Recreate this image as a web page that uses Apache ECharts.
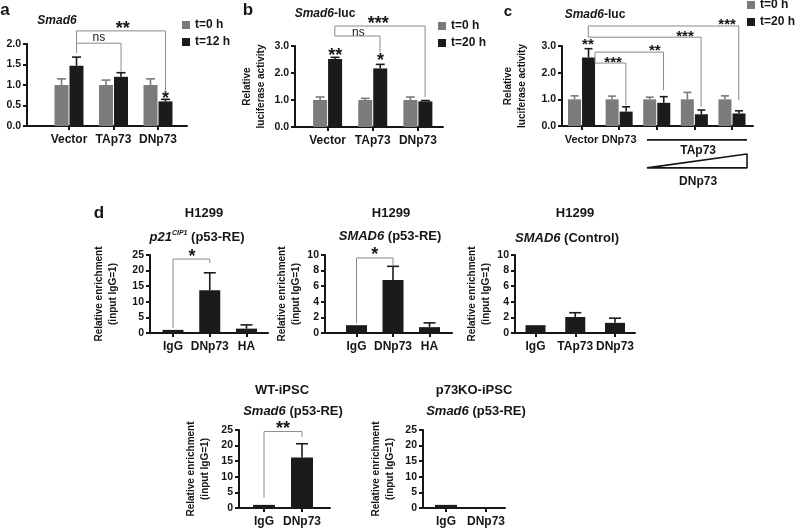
<!DOCTYPE html>
<html>
<head>
<meta charset="utf-8">
<script src="https://cdn.jsdelivr.net/npm/echarts@6/dist/echarts.min.js"></script>
<style>
html, body { margin: 0; padding: 0; background: #fff; }
#chart { width: 799px; height: 530px; }
</style>
</head>
<body>
<div id="chart"></div>
<script>
// ---- a: Smad6 mRNA (qPCR) ----
var aCats = ['Vector', 'TAp73', 'DNp73'];
var aYTicks = [0, 0.5, 1.0, 1.5, 2.0];
var aT0 = [1.0, 1.0, 1.0];
var aT0Sem = [0.15, 0.12, 0.15];
var aT12 = [1.47, 1.2, 0.6];
var aT12Sem = [0.21, 0.1, 0.05];
var aBrackets = [
	[[0.17, 1.78], [0.17, 2.02], [1.17, 2.02], [1.17, 1.33]],
	[[0.17, 2.02], [0.17, 2.32], [2.17, 2.32], [2.17, 0.82]],
];
var aNotes = [[0.67, 2.16, 'ns'], [1.21, 2.46, '**'], [2.17, 0.75, '*']];

// ---- b: Smad6-luc ----
var bCats = ['Vector', 'TAp73', 'DNp73'];
var bYTicks = [0, 1.0, 2.0, 3.0];
var bT0 = [1.0, 1.0, 1.0];
var bT0Sem = [0.11, 0.06, 0.11];
var bT20 = [2.52, 2.17, 0.95];
var bT20Sem = [0.06, 0.15, 0.03];
var bBrackets = [
	[[0.16, 3.37], [1.16, 3.37], [1.16, 2.78]],
	[[0.16, 3.37], [0.16, 3.74], [2.16, 3.74], [2.16, 1.11]],
];
var bNotes = [[0.68, 3.5, 'ns'], [1.12, 3.96, '***'], [0.17, 2.78, '**'], [1.17, 2.59, '*']];

// ---- c: Smad6-luc, TAp73 + increasing DNp73 ----
var cCats = ['Vector', 'DNp73', '', '', ''];
var cYTicks = [0, 1.0, 2.0, 3.0];
var cT0 = [1.0, 1.0, 1.0, 1.0, 1.0];
var cT0Sem = [0.13, 0.12, 0.08, 0.26, 0.13];
var cT20 = [2.57, 0.54, 0.87, 0.44, 0.47];
var cT20Sem = [0.33, 0.18, 0.23, 0.16, 0.1];
var cBrackets = [
	[[0.18, 3.33], [0.18, 3.75], [4.18, 3.75], [4.18, 0.97]],
	[[0.18, 3.33], [3.18, 3.33], [3.18, 0.71]],
	[[0.36, 2.77], [2.18, 2.77], [2.18, 1.34]],
	[[0.36, 2.77], [0.36, 2.36], [1.18, 2.36], [1.18, 0.79]],
];
var cNotes = [[3.87, 3.9, '***'], [2.75, 3.48, '***'], [1.95, 2.96, '**'], [0.84, 2.51, '***'], [0.17, 3.15, '**']];
var cKeyLine = [[1.74, -0.52], [4.4, -0.52]];
var cKeyWedge = [[1.74, -1.57], [4.4, -1.57], [4.4, -1.05], [1.74, -1.57]];
var cKeyText = [[3.1, -0.94, 'TAp73'], [3.1, -2.1, 'DNp73']];

// ---- d: ChIP, H1299 ----
var d1Cats = ['IgG', 'DNp73', 'HA'];
var d1YTicks = [0, 5, 10, 15, 20, 25];
var d1Vals = [1.0, 13.7, 1.4];
var d1Sem = [0, 5.6, 1.2];
var d1Brackets = [[[0, 1.6], [0, 23.7], [1, 23.7], [1, 22.4]]];
var d1Notes = [[0.52, 25.6, '*']];

var d2Cats = ['IgG', 'DNp73', 'HA'];
var d2YTicks = [0, 2, 4, 6, 8, 10];
var d2Vals = [1.0, 6.8, 0.75];
var d2Sem = [0, 1.75, 0.55];
var d2Brackets = [[[0, 1.27], [0, 9.62], [1, 9.62], [1, 8.6]]];
var d2Notes = [[0.5, 10.5, '*']];

var d3Cats = ['IgG', 'TAp73', 'DNp73'];
var d3YTicks = [0, 2, 4, 6, 8, 10];
var d3Vals = [1.0, 2.05, 1.3];
var d3Sem = [0, 0.55, 0.6];

// ---- d: ChIP, iPSC ----
var d4Cats = ['IgG', 'DNp73'];
var d4YTicks = [0, 5, 10, 15, 20, 25];
var d4Vals = [1.0, 16.2];
var d4Sem = [0, 4.4];
var d4Brackets = [[[0, 3.3], [0, 24.5], [1, 24.5], [1, 22.8]]];
var d4Notes = [[0.5, 26.6, '**']];

var d5Cats = ['IgG', 'DNp73'];
var d5YTicks = [0, 5, 10, 15, 20, 25];
var d5Vals = [1.0, 0];
var d5Sem = [0, 0];

var FONT = '"Liberation Sans", Arial, Helvetica, sans-serif';
var GRAY = '#7b7b7b';
var BLACK = '#1b1b1b';
var LINE = '#8a8a8a';
var INK = '#161616';

var grids = [];
var xAxes = [];
var yAxes = [];
var series = [];

function panel(p) {
	var i = grids.length;
	var idx = p.cats.map(function (c, k) { return k });
	var t = p.yTicks;
	grids.push({ left: p.box[0], top: p.box[1], width: p.box[2], height: p.box[3], outerBoundsMode: 'none', containLabel: false });
	xAxes.push({
		gridIndex: i, type: 'value', min: p.xr[0], max: p.xr[1],
		axisLine: { show: true, onZero: false, lineStyle: { color: INK, width: 2 } },
		axisTick: { show: true, length: 4, customValues: idx, lineStyle: { color: INK, width: 2 } },
		axisLabel: {
			customValues: idx, margin: 8, color: INK, fontFamily: FONT, fontWeight: 'bold', fontSize: p.catSize || 12,
			formatter: function (v) { return p.cats[Math.round(v)] || '' },
		},
		splitLine: { show: false },
	});
	yAxes.push({
		gridIndex: i, type: 'value', min: t[0], max: t[t.length - 1], interval: t[1] - t[0],
		name: p.yName, nameLocation: 'middle', nameRotate: 90, nameGap: p.nameGap,
		nameTextStyle: { color: INK, fontFamily: FONT, fontWeight: 'bold', fontSize: 10, lineHeight: 14 },
		axisLine: { show: true, onZero: false, lineStyle: { color: INK, width: 2 } },
		axisTick: { show: true, length: 4, lineStyle: { color: INK, width: 2 } },
		axisLabel: {
			margin: 6, color: INK, fontFamily: FONT, fontWeight: 'bold', fontSize: 10.5,
			formatter: function (v) { return v.toFixed(p.dec) },
		},
		splitLine: { show: false },
	});
	return i;
}

function bars(i, name, vals, color, width, gap) {
	series.push({
		type: 'bar', name: name, xAxisIndex: i, yAxisIndex: i,
		data: vals.map(function (v, k) { return [k, v] }),
		barWidth: width, barGap: gap, itemStyle: { color: color },
		silent: true, animation: false,
	});
}

function errs(i, vals, sems, color, off, cap) {
	series.push({
		type: 'custom', xAxisIndex: i, yAxisIndex: i, silent: true, animation: false,
		data: vals.map(function (v, k) { return [k, v, v + sems[k]] }),
		encode: { x: 0, y: [1, 2] },
		renderItem: function (params, api) {
			if (api.value(2) <= api.value(1)) return
			var base = api.coord([api.value(0), api.value(1)]);
			var top = api.coord([api.value(0), api.value(2)]);
			var x = base[0] + off;
			return {
				type: 'group', children: [
					{ type: 'line', shape: { x1: x, y1: base[1], x2: x, y2: top[1] }, style: { stroke: color, lineWidth: 1.6 } },
					{ type: 'line', shape: { x1: x - cap / 2, y1: top[1], x2: x + cap / 2, y2: top[1] }, style: { stroke: color, lineWidth: 1.6 } },
				],
			};
		},
	});
}

function bracket(i, list, color, width) {
	list.forEach(function (pts) {
		series.push({
			type: 'line', xAxisIndex: i, yAxisIndex: i, data: pts, symbol: 'none', clip: false,
			silent: true, animation: false, lineStyle: { color: color || LINE, width: width || 1 },
		});
	});
}

function notes(i, items, starSize, font) {
	series.push({
		type: 'custom', xAxisIndex: i, yAxisIndex: i, silent: true, animation: false, clip: false,
		data: items.map(function (n) { return [n[0], n[1]] }),
		encode: { x: 0, y: 1 },
		renderItem: function (params, api) {
			var txt = items[params.dataIndex][2];
			var p = api.coord([api.value(0), api.value(1)]);
			var star = txt.indexOf('*') >= 0;
			return {
				type: 'text', x: p[0], y: p[1] + (star ? starSize * 0.22 : 0),
				style: {
					text: txt, fill: INK, align: 'center', verticalAlign: 'middle',
					font: star ? 'bold ' + starSize + 'px ' + FONT : (font || '12px ' + FONT),
				},
			};
		},
	});
}

// panel a
var pa = panel({ cats: aCats, yTicks: aYTicks, dec: 1, box: [27, 44, 160, 82], xr: [-0.944, 2.652], yName: 'Relative mRNA levels', nameGap: 16 });
bars(pa, 't=0 h', aT0, GRAY, 14, '7%');
bars(pa, 't=12 h', aT12, BLACK, 14, '7%');
errs(pa, aT0, aT0Sem, GRAY, -7.5, 9);
errs(pa, aT12, aT12Sem, BLACK, 7.5, 9);
bracket(pa, aBrackets);
notes(pa, aNotes, 18);

// panel b
var pb = panel({ cats: bCats, yTicks: bYTicks, dec: 1, box: [295, 46, 148, 81], xr: [-0.722, 2.556], yName: 'Relative\nluciferase activity', nameGap: 27 });
bars(pb, 't=0 h', bT0, GRAY, 14, '7%');
bars(pb, 't=20 h', bT20, BLACK, 14, '7%');
errs(pb, bT0, bT0Sem, GRAY, -7.5, 9);
errs(pb, bT20, bT20Sem, BLACK, 7.5, 9);
bracket(pb, bBrackets);
notes(pb, bNotes, 18);

// panel c
var pc = panel({ cats: cCats, catSize: 11, yTicks: cYTicks, dec: 1, box: [562, 46, 191, 80], xr: [-0.519, 4.559], yName: 'Relative\nluciferase activity', nameGap: 33 });
bars(pc, 't=0 h', cT0, GRAY, 13, '8%');
bars(pc, 't=20 h', cT20, BLACK, 13, '8%');
errs(pc, cT0, cT0Sem, GRAY, -7, 8);
errs(pc, cT20, cT20Sem, BLACK, 7, 8);
bracket(pc, cBrackets);
bracket(pc, [cKeyLine, cKeyWedge], INK, 1.6);
notes(pc, cNotes, 15);
notes(pc, cKeyText, 15, 'bold 12px ' + FONT);

// panel d, H1299
var enrich = 'Relative enrichment\n(input IgG=1)';
var p1 = panel({ cats: d1Cats, yTicks: d1YTicks, dec: 0, box: [150, 255, 118, 78], xr: [-0.626, 2.585], yName: enrich, nameGap: 30 });
bars(p1, 'p21', d1Vals, BLACK, 21);
errs(p1, d1Vals, d1Sem, BLACK, 0, 12);
bracket(p1, d1Brackets);
notes(p1, d1Notes, 18);

var p2 = panel({ cats: d2Cats, yTicks: d2YTicks, dec: 0, box: [325, 255, 127, 78], xr: [-0.863, 2.616], yName: enrich, nameGap: 20 });
bars(p2, 'smad6', d2Vals, BLACK, 21);
errs(p2, d2Vals, d2Sem, BLACK, 0, 12);
bracket(p2, d2Brackets);
notes(p2, d2Notes, 18);

var p3 = panel({ cats: d3Cats, yTicks: d3YTicks, dec: 0, box: [515, 255, 120, 78], xr: [-0.516, 2.503], yName: enrich, nameGap: 22 });
bars(p3, 'control', d3Vals, BLACK, 20);
errs(p3, d3Vals, d3Sem, BLACK, 0, 12);

// panel d, iPSC
var p4 = panel({ cats: d4Cats, yTicks: d4YTicks, dec: 0, box: [239, 430, 91, 78], xr: [-0.658, 1.737], yName: enrich, nameGap: 27 });
bars(p4, 'wt', d4Vals, BLACK, 22);
errs(p4, d4Vals, d4Sem, BLACK, 0, 12);
bracket(p4, d4Brackets);
notes(p4, d4Notes, 18);

var p5 = panel({ cats: d5Cats, yTicks: d5YTicks, dec: 0, box: [423, 430, 82, 78], xr: [-0.575, 1.475], yName: enrich, nameGap: 26 });
bars(p5, 'ko', d5Vals, BLACK, 22);

// titles and panel letters
function label(text, x, y, size, rich) {
	return {
		type: 'text', x: x, y: y, silent: true,
		style: { text: text, fill: INK, align: 'center', verticalAlign: 'middle', font: 'bold ' + size + 'px ' + FONT, rich: rich },
	};
}
var it = function (s) { return { fontStyle: 'italic', fontWeight: 'bold', fontSize: s, fontFamily: FONT } };
var richT = {
	i: it(13),
	n: { fontWeight: 'bold', fontSize: 13, fontFamily: FONT },
	sup: { fontStyle: 'italic', fontWeight: 'bold', fontSize: 7, fontFamily: FONT, verticalAlign: 'top', lineHeight: 15 },
};
var graphics = [
	label('a', 5, 10, 17),
	label('b', 248, 10, 17),
	label('c', 508, 12, 15),
	label('d', 99, 213, 17),
	label('{i|Smad6}', 57, 21, 12, { i: it(12) }),
	label('{i|Smad6}-luc', 325, 14, 12, { i: it(12) }),
	label('{i|Smad6}-luc', 595, 15, 12, { i: it(12) }),
	label('H1299', 204, 213, 13),
	label('H1299', 391, 213, 13),
	label('H1299', 575, 213, 13),
	label('{i|p21}{sup|CIP1}{n| (p53-RE)}', 197, 237, 13, richT),
	label('{i|SMAD6}{n| (p53-RE)}', 390, 236, 13, richT),
	label('{i|SMAD6}{n| (Control)}', 567, 238, 13, richT),
	label('WT-iPSC', 282, 390, 13),
	label('{i|Smad6}{n| (p53-RE)}', 293, 411, 13, richT),
	label('p73KO-iPSC', 474, 390, 13),
	label('{i|Smad6}{n| (p53-RE)}', 476, 411, 13, richT),
];

function legendAt(names, left, top) {
	return {
		data: names, orient: 'vertical', left: left, top: top, padding: 0,
		itemWidth: 8, itemHeight: 8, itemGap: 5, icon: 'rect', selectedMode: false,
		textStyle: { color: INK, fontFamily: FONT, fontWeight: 'bold', fontSize: 12 },
	};
}

var chart = echarts.init(document.getElementById('chart'), null, { renderer: 'canvas' });
chart.setOption({
	backgroundColor: '#fff',
	animation: false,
	legend: [
		legendAt(['t=0 h', 't=12 h'], 182, 19),
		legendAt(['t=0 h', 't=20 h'], 438, 20),
		legendAt(['t=0 h', 't=20 h'], 747, -1),
	],
	grid: grids,
	xAxis: xAxes,
	yAxis: yAxes,
	series: series,
	graphic: graphics,
});
</script>
</body>
</html>
